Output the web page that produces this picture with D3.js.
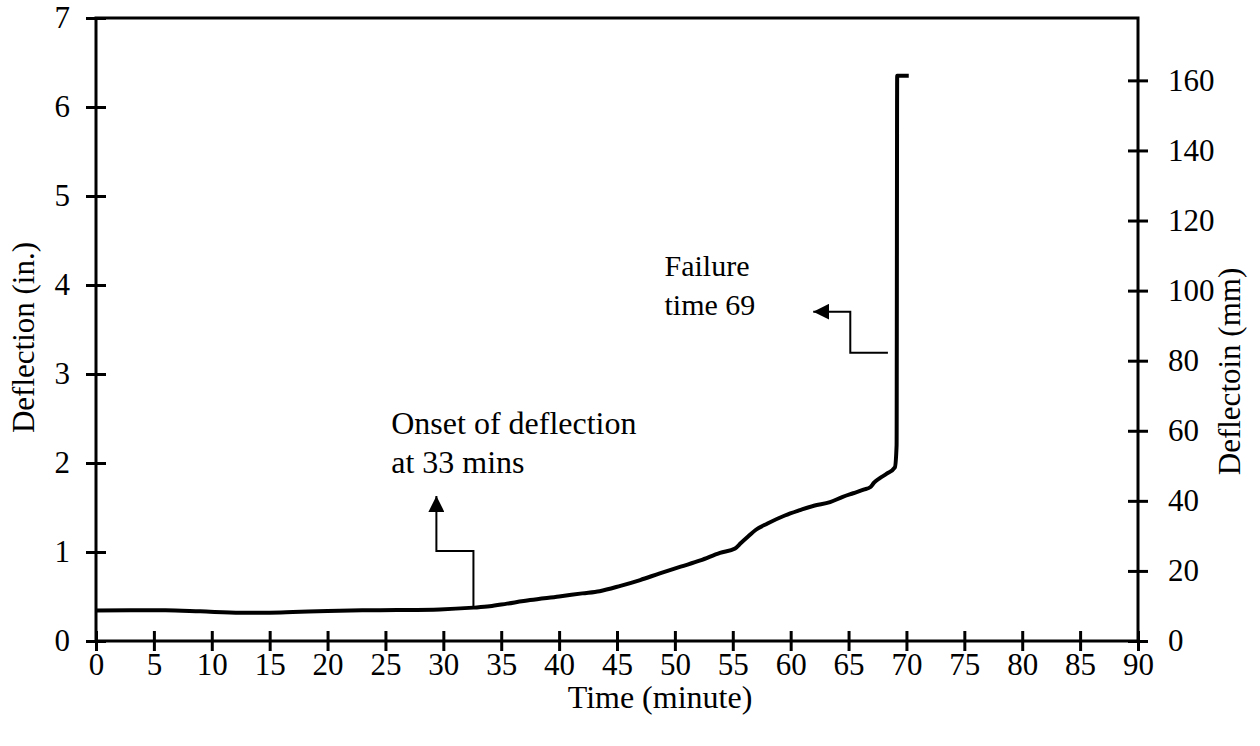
<!DOCTYPE html>
<html>
<head>
<meta charset="utf-8">
<script src="https://cdn.jsdelivr.net/npm/d3@7"></script>
<style>
  body { margin: 0; background: #fff; }
  svg text { font-family: "Liberation Serif", "Times New Roman", serif; fill: #000; }
</style>
</head>
<body>
<svg id="chart" width="1260" height="746"></svg>
<script>
// Deflection vs time
const timeMin = [0, 3, 6, 9, 12.5, 15, 17, 20, 23, 26, 29.7, 32.6, 34, 35.5, 37.5, 40, 42, 43.5,
    45.3, 47, 48.7, 50.5, 52.2, 53.9, 55.2, 55.7, 56.3, 57, 58, 59.5, 60.8, 62, 63.4, 64.5,
    65.4, 66.3, 66.9, 67.2, 67.7, 68.3, 69.0, 69.15, 69.2, 70.2];
const deflectionIn = [0.343, 0.346, 0.345, 0.333, 0.317, 0.318, 0.325, 0.338, 0.345, 0.348, 0.355,
    0.375, 0.39, 0.42, 0.46, 0.50, 0.535, 0.56, 0.62, 0.685, 0.76, 0.835, 0.905, 0.99, 1.04,
    1.10, 1.17, 1.25, 1.32, 1.41, 1.47, 1.52, 1.56, 1.62, 1.66, 1.70, 1.73, 1.78, 1.83, 1.88,
    1.95, 2.2, 6.35, 6.35];

const xTicks = d3.range(0, 91, 5);
const yTicksIn = d3.range(0, 8, 1);
const yTicksMm = d3.range(0, 161, 20);

// annotation anchors in data units: [time, deflection in.]
const onsetArrow = [[32.6, 0.375], [32.6, 1.01], [29.4, 1.01], [29.4, 1.63]];
const failureArrow = [[68.4, 3.24], [65.15, 3.24], [65.15, 3.70], [61.95, 3.70]];
const onsetText = ['Onset of deflection', 'at 33 mins'];
const failureText = ['Failure', 'time 69'];

const svg = d3.select('#chart');
const margin = { left: 96, right: 122, top: 18, bottom: 105 };
const width = 1260, height = 746;
const fs = 31;

const x = d3.scaleLinear().domain([0, 90]).range([margin.left, width - margin.right]);
const y = d3.scaleLinear().domain([0, 7]).range([height - margin.bottom, margin.top]);
const yMm = d3.scaleLinear().domain([0, 7 * 25.4]).range([height - margin.bottom, margin.top]);

// frame
svg.append('rect')
    .attr('x', x(0)).attr('y', y(7))
    .attr('width', x(90) - x(0)).attr('height', y(0) - y(7))
    .attr('fill', 'none').attr('stroke', '#000').attr('stroke-width', 3);

function styleAxis(g) {
    g.select('.domain').remove();
    g.selectAll('.tick line').attr('stroke', '#000').attr('stroke-width', 3);
    g.selectAll('.tick text').attr('font-size', fs).attr('font-family', '"Liberation Serif", serif');
}

// x axis (ticks cross the axis line)
svg.append('g')
    .attr('transform', `translate(0,${y(0)})`)
    .call(d3.axisBottom(x).tickValues(xTicks).tickSize(10).tickPadding(2).tickFormat(d3.format('d')))
    .call(styleAxis)
    .call(g => g.selectAll('.tick line').attr('y1', -10));

svg.append('g')
    .attr('transform', `translate(${x(0)},0)`)
    .call(d3.axisLeft(y).tickValues(yTicksIn).tickSize(10).tickPadding(16).tickFormat(d3.format('d')))
    .call(styleAxis)
    .call(g => g.selectAll('.tick line').attr('x1', 10));

svg.append('g')
    .attr('transform', `translate(${x(90)},0)`)
    .call(d3.axisRight(yMm).tickValues(yTicksMm).tickSize(10).tickPadding(20).tickFormat(d3.format('d')))
    .call(styleAxis)
    .call(g => g.selectAll('.tick line').attr('x1', -10));

// axis titles
svg.append('text')
    .attr('x', (x(0) + x(90)) / 2 + 43).attr('y', 708)
    .attr('text-anchor', 'middle').attr('font-size', 32)
    .text('Time (minute)');

svg.append('text')
    .attr('transform', `translate(34,${(y(0) + y(7)) / 2 + 8}) rotate(-90)`)
    .attr('text-anchor', 'middle').attr('font-size', fs)
    .text('Deflection (in.)');

svg.append('text')
    .attr('transform', `translate(1240,${(y(0) + y(7)) / 2 + 42}) rotate(-90)`)
    .attr('text-anchor', 'middle').attr('font-size', fs)
    .text('Deflectoin (mm)');

// data line
const data = timeMin.map((t, i) => [t, deflectionIn[i]]);
svg.append('path')
    .datum(data)
    .attr('fill', 'none')
    .attr('stroke', '#000')
    .attr('stroke-width', 4)
    .attr('stroke-linejoin', 'round')
    .attr('d', d3.line().curve(d3.curveMonotoneX).x(d => x(d[0])).y(d => y(d[1])));

// annotation arrows
svg.append('defs').append('marker')
    .attr('id', 'arrow')
    .attr('viewBox', '0 0 10 10')
    .attr('refX', 10).attr('refY', 5)
    .attr('markerWidth', 8).attr('markerHeight', 8)
    .attr('markerUnits', 'strokeWidth')
    .attr('orient', 'auto')
    .append('path').attr('d', 'M0,0 L10,5 L0,10 Z').attr('fill', '#000');

const arrowLine = d3.line().x(d => x(d[0])).y(d => y(d[1]));
[onsetArrow, failureArrow].forEach(pts => {
    svg.append('path')
        .datum(pts)
        .attr('fill', 'none')
        .attr('stroke', '#000')
        .attr('stroke-width', 2)
        .attr('marker-end', 'url(#arrow)')
        .attr('d', arrowLine);
});

// annotation text
function addLabel(lines, t, d, size) {
    const txt = svg.append('text')
        .attr('x', x(t)).attr('y', y(d))
        .attr('font-size', size);
    lines.forEach((s, i) => {
        txt.append('tspan').attr('x', x(t)).attr('dy', i === 0 ? 0 : 39).text(s);
    });
}
addLabel(onsetText, 25.5, 2.33, 32);
addLabel(failureText, 49.1, 4.1, 30);
</script>
</body>
</html>
